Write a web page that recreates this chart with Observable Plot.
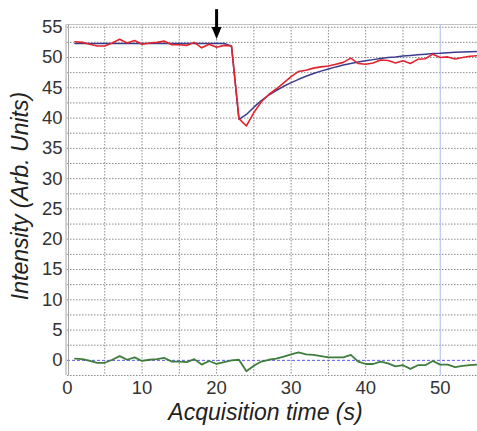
<!DOCTYPE html>
<html>
<head>
<meta charset="utf-8">
<script src="https://cdn.jsdelivr.net/npm/d3@7"></script>
<script src="https://cdn.jsdelivr.net/npm/@observablehq/plot@0.6"></script>
<style>
  html, body { margin: 0; padding: 0; background: #fff; }
  #chart svg { display: block; }
</style>
</head>
<body>
<div id="chart"></div>
<script>
const time = [1,2,3,4,5,6,7,8,9,10,11,12,13,14,15,16,17,18,19,20,21,22,23,24,25,26,27,28,29,30,31,32,33,34,35,36,37,38,39,40,41,42,43,44,45,46,47,48,49,50,51,52,53,54,55];
const measured = [52.6,52.5,52.2,51.9,51.9,52.4,53.0,52.4,52.8,52.2,52.4,52.5,52.7,52.1,52.1,52.0,52.5,51.6,52.2,51.7,52.0,51.9,39.9,38.7,40.9,42.7,43.9,44.8,45.8,46.85,47.7,47.9,48.25,48.45,48.6,48.9,49.2,49.9,49.0,48.9,49.1,49.6,49.5,49.1,49.45,49.0,49.7,49.8,50.55,50.0,50.1,49.75,50.0,50.2,50.3];
const fitted = [52.3,52.3,52.3,52.3,52.3,52.3,52.3,52.3,52.3,52.3,52.3,52.3,52.3,52.3,52.3,52.3,52.3,52.3,52.3,52.3,52.3,51.9,39.8,40.6,41.8,42.9,43.8,44.55,45.25,45.85,46.4,46.9,47.35,47.75,48.1,48.45,48.75,49.0,49.25,49.45,49.65,49.85,50.0,50.1,50.25,50.35,50.45,50.55,50.65,50.7,50.8,50.85,50.9,50.95,51.0];
const residual = [0.3,0.2,-0.1,-0.4,-0.4,0.1,0.7,0.1,0.5,-0.1,0.1,0.2,0.4,-0.2,-0.2,-0.3,0.2,-0.7,-0.1,-0.6,-0.3,0.0,0.1,-1.8,-0.9,-0.2,0.1,0.3,0.6,1.0,1.3,1.0,0.9,0.7,0.5,0.5,0.5,0.9,-0.2,-0.6,-0.6,-0.2,-0.5,-1.0,-0.8,-1.4,-0.8,-0.8,-0.1,-0.7,-0.7,-1.1,-0.9,-0.8,-0.7];
const xTicks = [0,10,20,30,40,50];
const yTicks = [0,5,10,15,20,25,30,35,40,45,50,55];
const xGrid = [5,10,15,20,25,30,35,40,45];
const yGrid = [-2.5,2.5,5,7.5,10,12.5,15,17.5,20,22.5,25,27.5,30,32.5,35,37.5,40,42.5,45,47.5,50,52.5,55];
const highlightX = [50];
const zeroY = [0];
const arrowX = [20];
const arrowShaft = {y1: 57.9, y2: 54.9};
const arrowHeadY = 53.7;
const xTitle = "Acquisition time (s)";
const yTitle = "Intensity (Arb. Units)";

const rows = time.map((t, i) => ({t, measured: measured[i], fitted: fitted[i], residual: residual[i]}));

const headSymbol = {
  draw(context) {
    context.moveTo(-5, -8);
    context.lineTo(5, -8);
    context.lineTo(0, 4);
    context.closePath();
  }
};

const font = "Liberation Sans, Arial, sans-serif";

const chart = Plot.plot({
  width: 477,
  height: 431,
  marginLeft: 67,
  marginRight: 0,
  marginTop: 24,
  marginBottom: 56,
  x: {domain: [0, 55]},
  y: {domain: [-2.5, 55.45]},
  style: {fontFamily: font, background: "white", overflow: "visible"},
  marks: [
    Plot.ruleX(xGrid, {stroke: "#8a8a8a", strokeDasharray: "1.5,1.5", strokeWidth: 1}),
    Plot.ruleY(yGrid, {stroke: "#8a8a8a", strokeDasharray: "1.5,1.5", strokeWidth: 1}),
    Plot.ruleX(highlightX, {stroke: "#b0b6ec", strokeWidth: 1}),
    Plot.ruleY(zeroY, {stroke: "#5858f0", strokeDasharray: "3,2", strokeWidth: 1}),
    Plot.frame({anchor: "top", stroke: "#c4c4c4"}),
    Plot.ruleX([0], {stroke: "#a8a8a8", dx: -1.5}),
    Plot.ruleX([0], {stroke: "#a8a8a8", dx: 1}),
    Plot.line(rows, {x: "t", y: "fitted", stroke: "#3c3c8c", strokeWidth: 1.5}),
    Plot.line(rows, {x: "t", y: "measured", stroke: "#e1232d", strokeWidth: 1.6}),
    Plot.line(rows, {x: "t", y: "residual", stroke: "#3e7d3c", strokeWidth: 1.8}),
    Plot.ruleX(arrowX, {y1: arrowShaft.y1, y2: arrowShaft.y2, stroke: "black", strokeWidth: 3}),
    Plot.dot(arrowX, {x: d => d, y: arrowHeadY, symbol: headSymbol, fill: "black", stroke: "none", r: 5}),
    Plot.axisX(xTicks, {tickSize: 0, tickPadding: 5, fontSize: 18.5, fill: "#333", label: null, fontFamily: font}),
    Plot.axisY(yTicks, {tickSize: 0, tickPadding: 5, fontSize: 18.5, fill: "#333", label: null, fontFamily: font}),
    Plot.text([xTitle], {frameAnchor: "bottom", dy: 44, dx: -7, fontSize: 23, fontStyle: "italic", fill: "#222", fontFamily: font}),
    Plot.text([yTitle], {frameAnchor: "left", textAnchor: "middle", dx: -47, dy: -4, rotate: -90, fontSize: 23, fontStyle: "italic", fill: "#222", fontFamily: font})
  ]
});

document.getElementById("chart").appendChild(chart);
</script>
</body>
</html>
